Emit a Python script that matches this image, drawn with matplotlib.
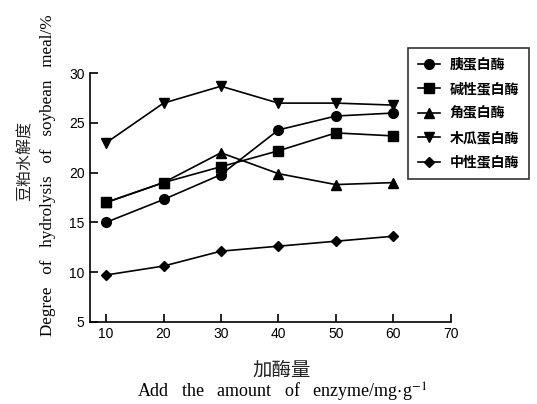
import matplotlib
matplotlib.use("Agg")
import matplotlib.pyplot as plt

plt.rcParams['font.family'] = ['Liberation Sans', 'Noto Sans CJK SC', 'DejaVu Sans']
plt.rcParams['mathtext.fontset'] = 'stix'

x = [10, 20, 30, 40, 50, 60]
series_names = ['胰蛋白酶', '碱性蛋白酶', '角蛋白酶', '木瓜蛋白酶', '中性蛋白酶']
trypsin = [15.0, 17.3, 19.8, 24.3, 25.7, 26.0]
alkaline = [17.0, 19.0, 20.6, 22.2, 24.0, 23.7]
keratinase = [17.0, 19.0, 22.0, 19.9, 18.8, 19.0]
papain = [23.0, 27.0, 28.7, 27.0, 27.0, 26.8]
neutral = [9.7, 10.6, 12.1, 12.6, 13.1, 13.6]
x_ticks = [10, 20, 30, 40, 50, 60, 70]
y_ticks = [5, 10, 15, 20, 25, 30]

series = [trypsin, alkaline, keratinase, papain, neutral]
markers = ['o', 's', '^', 'v', 'D']
sizes = [7, 7, 7, 7, 5]

fig = plt.figure(figsize=(5.37, 4.04), dpi=100)
ax = fig.add_axes([90/537, 1-321.7/404, (450.7-90)/537, (321.7-73.3)/404])

for ys, m, s, name in zip(series, markers, sizes, series_names):
    ax.plot(x, ys, color='black', marker=m, markersize=s, linewidth=1.2,
            markerfacecolor='black', markeredgecolor='black', label=name)

ax.set_xlim(7.2, 70)
ax.set_ylim(5, 30)
ax.set_xticks(x_ticks)
ax.set_yticks(y_ticks)
for sp in ['top', 'right']:
    ax.spines[sp].set_visible(False)
for sp in ['left', 'bottom']:
    ax.spines[sp].set_linewidth(1.2)
ax.tick_params(direction='in', length=6, width=1.2, labelsize=10, pad=4)

leg = fig.legend(loc='upper left', bbox_to_anchor=(408/537, 1-48/404), frameon=True,
                 fancybox=False, edgecolor='black',
                 prop={'family': ['Noto Sans CJK SC'], 'size': 10, 'weight': 'bold'},
                 handlelength=1.6, labelspacing=0.75, borderpad=0.7, handletextpad=0.7,
                 borderaxespad=0)
leg.get_frame().set_linewidth(1.2)

serif = ['Liberation Serif', 'Noto Sans CJK SC']
fig.text(25/537, 1-161/404, '豆粕水解度', rotation=90, ha='center', va='center',
         family=['Noto Sans CJK SC'], fontsize=11.5, color='#222222')
fig.text(48/537, 1-175/404, 'Degree   of   hydrolysis   of   soybean   meal/%', rotation=90,
         ha='center', va='center', family=serif, fontsize=12.3)
fig.text(282/537, 1-370/404, '加酶量', ha='center', va='center',
         family=['Noto Sans CJK SC'], fontsize=14, color='#222222')
fig.text(282/537, 1-392/404, r'Add   the   amount   of   enzyme/mg$\cdot$g$^{-1}$', ha='center', va='center',
         family=serif, fontsize=13)

fig.savefig('out.png', dpi=100)
